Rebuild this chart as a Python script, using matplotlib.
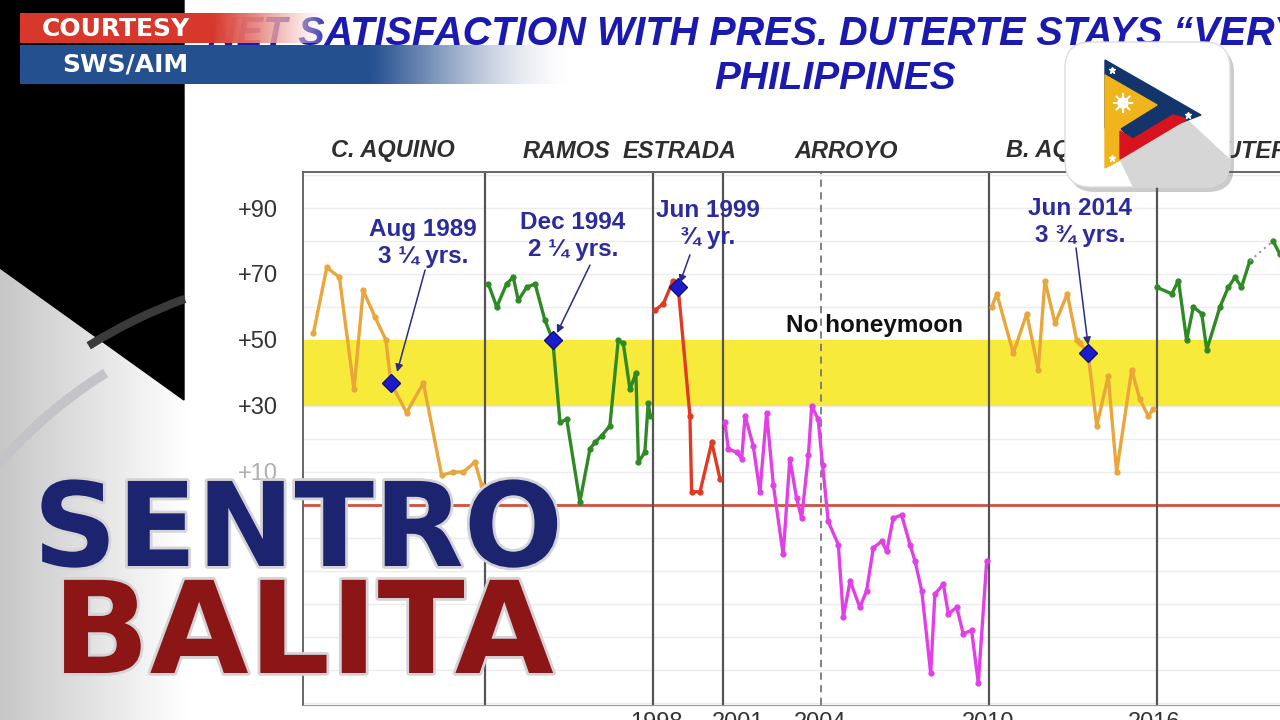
import numpy as np
import matplotlib.pyplot as plt
from matplotlib.patches import Polygon, FancyBboxPatch, Circle, Arc, Rectangle
from matplotlib.colors import to_rgb
import matplotlib.patheffects as pe

plt.rcParams['font.family'] = ['Liberation Sans', 'DejaVu Sans']

# ---- data (x = year, y = net satisfaction) ----
c_aquino_x = [1986.37, 1986.85, 1987.30, 1987.82, 1988.15, 1988.57, 1988.96, 1989.14,
              1989.70, 1990.30, 1990.95, 1991.37, 1991.73, 1992.14, 1992.38]
c_aquino_y = [52, 72, 69, 35, 65, 57, 50, 37, 28, 37, 9, 10, 10, 13, 6]

ramos_x = [1992.62, 1992.92, 1993.27, 1993.51, 1993.69, 1993.99, 1994.29, 1994.64,
           1994.92, 1995.18, 1995.42, 1995.89, 1996.25, 1996.43, 1996.67, 1996.96,
           1997.26, 1997.44, 1997.68, 1997.89, 1997.98, 1998.21, 1998.33, 1998.40]
ramos_y = [67, 60, 67, 69, 62, 66, 67, 56, 50, 25, 26, 1, 17, 19, 21, 24,
           50, 49, 35, 40, 13, 16, 31, 27]

estrada_x = [1998.57, 1998.87, 1999.22, 1999.40, 1999.82, 1999.88, 2000.18, 2000.60, 2000.89]
estrada_y = [59, 61, 68, 66, 27, 4, 4, 19, 8]

arroyo_x = [2001.07, 2001.19, 2001.49, 2001.67, 2001.79, 2002.08, 2002.32, 2002.56,
            2002.80, 2003.15, 2003.39, 2003.63, 2003.81, 2004.05, 2004.17, 2004.40,
            2004.56, 2004.76, 2005.12, 2005.30, 2005.54, 2005.89, 2006.13, 2006.37,
            2006.67, 2006.85, 2007.08, 2007.38, 2007.68, 2007.86, 2008.10, 2008.42,
            2008.57, 2008.87, 2009.05, 2009.35, 2009.58, 2009.88, 2010.12, 2010.42]
arroyo_y = [25, 17, 16, 14, 27, 18, 4, 28, 6, -15, 14, 2, -4, 15, 30, 26,
            12, -5, -12, -34, -23, -31, -26, -13, -11, -14, -4, -3, -12, -17, -26, -51,
            -27, -24, -33, -31, -39, -38, -54, -17]

b_aquino_x = [2010.60, 2010.78, 2011.37, 2011.85, 2012.26, 2012.50, 2012.86, 2013.30,
              2013.63, 2013.75, 2014.04, 2014.35, 2014.76, 2015.06, 2015.60, 2015.89,
              2016.19, 2016.37]
b_aquino_y = [60, 64, 46, 58, 41, 68, 55, 64, 50, 49, 46, 24, 39, 10, 41, 32, 27, 29]

duterte_x = [2016.49, 2017.03, 2017.27, 2017.56, 2017.80, 2018.10, 2018.28, 2018.75,
             2019.05, 2019.29, 2019.52, 2019.82]
duterte_y = [66, 64, 68, 50, 60, 58, 47, 60, 66, 69, 66, 74]
duterte_late_x = [2020.65, 2020.89]
duterte_late_y = [80, 76]

milestone_x = [1989.14, 1994.92, 1999.40, 2014.04]
milestone_y = [37, 50, 66, 46]
milestone_text = ['Aug 1989\n3 ¼ yrs.', 'Dec 1994\n2 ¼ yrs.', 'Jun 1999\n¾ yr.', 'Jun 2014\n3 ¾ yrs.']
milestone_text_pos = [(1990.29, 79.4), (1995.64, 81.5), (2000.46, 85.2), (2013.75, 85.8)]
milestone_arrow_from = [(1990.36, 71.2), (1996.25, 72.7), (1999.82, 75.8), (2013.61, 77.9)]
milestone_arrow_to = [(1989.36, 40.3), (1995.07, 52.1), (1999.46, 67.3), (2014.04, 48.5)]

term_bounds = [1992.5, 1998.5, 2001.0, 2010.5, 2016.5]
arroyo_second_term = 2004.5
presidents = ['C. AQUINO', 'RAMOS', 'ESTRADA', 'ARROYO', 'B. AQUINO', 'DUTERTE']
ytick_vals = [90, 70, 50, 30, 10]
ytick_labels = ['+90', '+70', '+50', '+30', '+10']
xtick_vals = [1998.64, 2001.54, 2004.46, 2010.46, 2016.39]
xtick_labels = ['1998', '2001', '2004', '2010', '2016']

W, H = 1280, 720
fig = plt.figure(figsize=(12.8, 7.2), dpi=100)

# ---- background layer, pixel coordinates ----
bg = fig.add_axes([0, 0, 1, 1], zorder=0)
bg.add_patch(Rectangle((0, 0), W, H, color='white', zorder=0))
grad = np.linspace(0.78, 1.0, 256)
bg.imshow(np.dstack([grad, grad, grad]).reshape(1, 256, 3),
          extent=(0, 186, H, 240), aspect='auto', zorder=1)
bg.add_patch(Polygon([(0, 0), (184, 0), (184, 400), (0, 268)], color='black', zorder=2))
bg.add_patch(Arc((360, 780), 960, 960, theta1=200, theta2=238, color='#c4c4c8', lw=7, zorder=3))
bg.add_patch(Arc((360, 780), 1024, 1024, theta1=238, theta2=250, color='#3a3a3a', lw=6, zorder=3))
bg.set_xlim(0, W)
bg.set_ylim(H, 0)
bg.axis('off')

# ---- the chart ----
ax = fig.add_axes([303 / W, 15 / H, (1300 - 303) / W, (705 - 172) / H], zorder=1)
ax.set_facecolor('none')
ax.set_xlim(1986.0, 2021.61)
ax.set_ylim(-60.61, 100.91)

for v in np.arange(-60, 101, 10):
    ax.axhline(v, color='#ececec', lw=1, zorder=0)
ax.axhspan(30, 50, color='#f7ea3a', lw=0, zorder=1)
ax.axhline(0, color='#d4503c', lw=2, zorder=2)
for b in term_bounds:
    ax.axvline(b, color='#555555', lw=1.6, zorder=2)
ax.axvline(arroyo_second_term, color='#777777', lw=1.3, ls=(0, (4, 3)), zorder=2)

orange = '#e9a63a'
green = '#2f8a26'
kw = dict(lw=2.4, marker='o', ms=3.5, zorder=3)
ax.plot(c_aquino_x, c_aquino_y, color=orange, **kw)
ax.plot(ramos_x, ramos_y, color=green, **kw)
ax.plot(estrada_x, estrada_y, color='#e03a22', **kw)
ax.plot(arroyo_x, arroyo_y, color='#e040e6', **kw)
ax.plot(b_aquino_x, b_aquino_y, color=orange, **kw)
ax.plot(duterte_x, duterte_y, color=green, **kw)
ax.plot([duterte_x[-1], duterte_late_x[0]], [duterte_y[-1], duterte_late_y[0]],
        color='#999999', lw=1.5, ls=(0, (1, 2)), zorder=3)
ax.plot(duterte_late_x, duterte_late_y, color=green, **kw)

ax.plot(milestone_x, milestone_y, ls='none', marker='D', ms=9,
        color='#1c1ccc', mec='#10107a', zorder=5)
for txt, tp, a0, a1 in zip(milestone_text, milestone_text_pos,
                            milestone_arrow_from, milestone_arrow_to):
    ax.text(tp[0], tp[1], txt, ha='center', va='center', fontsize=17.5,
            fontweight='bold', color='#2b2b9b', linespacing=1.25, zorder=6)
    ax.annotate('', xy=a1, xytext=a0,
                arrowprops=dict(arrowstyle='-|>', color='#2b2b8a', lw=1.1,
                                mutation_scale=11, shrinkA=0, shrinkB=0), zorder=6)

ax.text(2006.43, 54.5, 'No honeymoon', ha='center', va='center', fontsize=17.5,
        fontweight='bold', color='#111111', zorder=6)

ax.set_yticks(ytick_vals)
ax.set_yticklabels(ytick_labels)
ax.set_xticks(xtick_vals)
ax.set_xticklabels(xtick_labels)
ax.tick_params(axis='y', length=0, pad=18, labelsize=17, labelcolor='#333333')
ax.tick_params(axis='x', length=0, pad=5, labelsize=17, labelcolor='#333333')
ax.get_yticklabels()[-1].set_color('#b0b0b0')
for s in ['left', 'top']:
    ax.spines[s].set_color('#666666')
    ax.spines[s].set_linewidth(1.4)
ax.spines['bottom'].set_color('#999999')
ax.spines['right'].set_visible(False)

# ---- overlay layer: titles, banner, logo, show name ----
top = fig.add_axes([0, 0, 1, 1], zorder=3)
top.set_facecolor('none')

title_blue = '#1a1ab0'
top.text(208, 34, 'NET SATISFACTION WITH PRES. DUTERTE STAYS \u201cVERY GOOD\u201d',
         ha='left', va='center', fontsize=28.5, fontweight='bold', fontstyle='italic',
         color=title_blue, zorder=1)
top.text(835, 79, 'PHILIPPINES', ha='center', va='center', fontsize=28,
         fontweight='bold', fontstyle='italic', color=title_blue, zorder=1)

pres_pos = [(393, 'center'), (566, 'center'), (680, 'center'), (846, 'center'),
            (1006, 'left'), (1208, 'left')]
for name, (px, ha) in zip(presidents, pres_pos):
    top.text(px, 151, name, ha=ha, va='center', fontsize=17, fontweight='bold',
             fontstyle='italic', color='#2e2e2e', zorder=1)


def fade_bar(x0, x1, y0, y1, color, solid_to, z, end_color=None, mid_alpha=0.0):
    n = 256
    xs = np.linspace(x0, x1, n)
    t = np.clip((xs - solid_to) / (x1 - solid_to), 0, 1)
    c0 = np.array(to_rgb(color))
    c1 = np.array(to_rgb(end_color)) if end_color else c0
    rgba = np.zeros((1, n, 4))
    rgba[0, :, :3] = c0[None, :] * (1 - t[:, None]) + c1[None, :] * t[:, None]
    # alpha stays high through the colour blend, then drops away
    rgba[0, :, 3] = np.clip(1 - t ** 1.6 * (1 - mid_alpha) - t ** 4 * mid_alpha, 0, 1)
    top.imshow(rgba, extent=(x0, x1, y1, y0), aspect='auto', zorder=z,
               interpolation='bilinear')


fade_bar(20, 330, 13, 43, '#d8382c', 212, 3, end_color='#ffffff', mid_alpha=0.7)
fade_bar(20, 570, 45, 84, '#24508f', 370, 3, end_color='#e8e8ee')
top.text(42, 29, 'COURTESY', ha='left', va='center', fontsize=18,
         fontweight='bold', color='white', family='DejaVu Sans', zorder=4)
top.text(62, 65, 'SWS/AIM', ha='left', va='center', fontsize=18,
         fontweight='bold', color='white', family='DejaVu Sans', zorder=4)

# logo
top.add_patch(FancyBboxPatch((1069, 47), 165, 145, boxstyle='round,pad=0,rounding_size=26',
                             fc='#555555', ec='none', alpha=0.3, zorder=5))
box = FancyBboxPatch((1065, 42), 165, 145, boxstyle='round,pad=0,rounding_size=26',
                     fc='white', ec='#dddddd', lw=1, zorder=5)
top.add_patch(box)
shadow = Polygon([(1120, 159), (1186, 119), (1232, 162), (1232, 190), (1135, 190)],
                 color='#d6d6d6', zorder=5.1)
top.add_patch(shadow)
shadow.set_clip_path(box)
top.add_patch(Polygon([(1105, 60), (1201, 115), (1133, 141), (1120, 128), (1105, 128)],
                      color='#13356b', zorder=5.2))
top.add_patch(Polygon([(1105, 75), (1157, 105), (1120, 128), (1120, 160), (1105, 168)],
                      color='#f0b51c', zorder=5.3))
top.add_patch(Polygon([(1120, 131), (1133, 139), (1173, 115), (1187, 119), (1120, 159)],
                      color='#d7141d', zorder=5.3))
top.add_patch(Circle((1123, 103), 5, color='white', zorder=5.4))
for ang in np.linspace(0, 2 * np.pi, 8, endpoint=False):
    top.plot([1123, 1123 + 9 * np.cos(ang)], [103, 103 + 9 * np.sin(ang)],
             color='white', lw=1.5, zorder=5.4)
top.plot([1112, 1188, 1112], [70, 115, 158], ls='none', marker='*', ms=5,
         color='white', zorder=5.5)

# show name
stroke = [pe.Stroke(linewidth=4, foreground='#d4d4d8'), pe.Normal()]
top.text(298, 566, 'SENTRO', ha='center', va='baseline', fontsize=84,
         fontweight='bold', family='DejaVu Sans', color='#1c2470',
         path_effects=stroke, zorder=7)
top.text(303, 673, 'BALITA', ha='center', va='baseline', fontsize=92,
         fontweight='bold', family='DejaVu Sans', color='#8c1515',
         path_effects=stroke, zorder=7)

top.set_xlim(0, W)
top.set_ylim(H, 0)
top.axis('off')

fig.savefig('out.png', dpi=100)
